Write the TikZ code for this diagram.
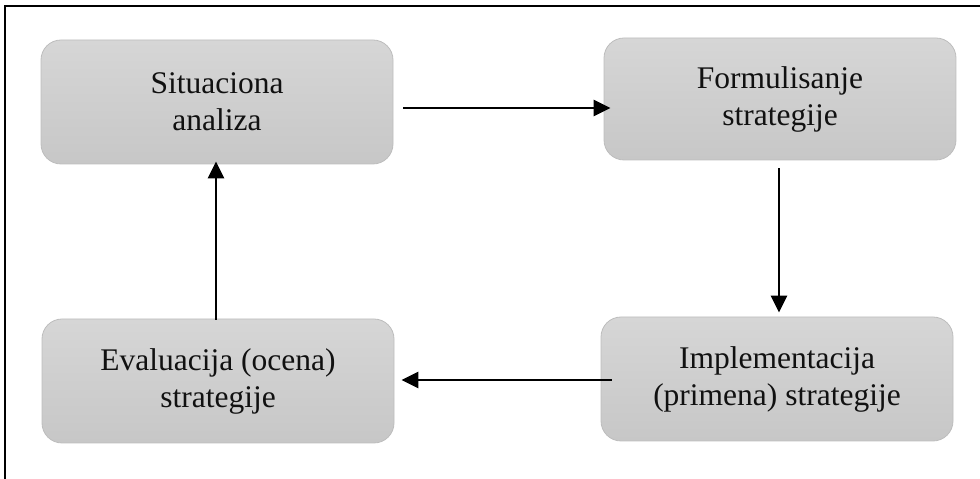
\documentclass[tikz,border=0pt]{standalone}
\usepackage{fontspec}
\setmainfont{Liberation Serif}
\usetikzlibrary{arrows.meta}
\definecolor{boxtop}{HTML}{D6D6D6}
\definecolor{boxbot}{HTML}{C7C7C7}
\definecolor{boxline}{HTML}{BDBDBD}
\definecolor{txt}{HTML}{111111}
\tikzset{
  stagebox/.style={draw=boxline, line width=0.8pt, rounded corners=20pt,
    top color=boxtop, bottom color=boxbot, minimum width=352pt,
    minimum height=124pt, align=center, text=txt,
    font=\fontsize{31.5pt}{37pt}\selectfont, inner sep=0pt},
  arr/.style={line width=2.8pt, draw=black,
    -{Triangle[length=17pt,width=16pt]}}
}
\begin{document}
\begin{tikzpicture}[x=1pt,y=1pt]
\useasboundingbox (0,0) rectangle (980,479);
\draw[line width=1.6pt] (5,-5) -- (5,473) -- (985,473);
\node[stagebox] (A) at (217,377) {Situaciona\\analiza};
\node[stagebox, minimum height=122pt] (B) at (780,380) {Formulisanje\\strategije};
\node[stagebox] (C) at (777,100) {Implementacija\\(primena) strategije};
\node[stagebox] (D) at (218,98) {Evaluacija (ocena)\\strategije};
\draw[arr] ([xshift=10pt]A.east |- 0,371) -- ([xshift=7pt]B.west |- 0,371);
\draw[arr] (779,0 |- B.south) ++(0,-8) -- ([yshift=4pt]779,0 |- C.north);
\draw[arr] ([xshift=11pt]C.west |- 0,99) -- ([xshift=7pt]D.east |- 0,99);
\draw[arr] ([yshift=-1pt]216,0 |- D.north) -- ([yshift=3pt]216,0 |- A.south);
\end{tikzpicture}
\end{document}
